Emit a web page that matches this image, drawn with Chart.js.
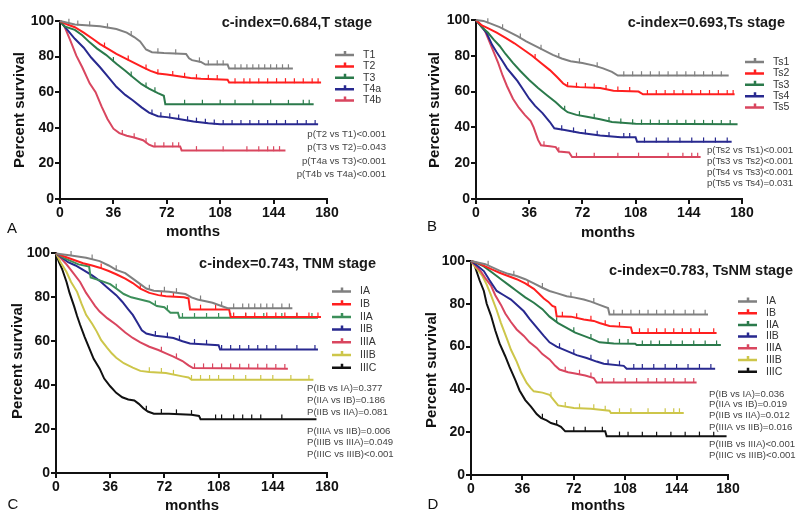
<!DOCTYPE html>
<html>
<head>
<meta charset="utf-8">
<script src="https://cdn.jsdelivr.net/npm/chart.js@4.4.1/dist/chart.umd.min.js"></script>
<style>
  body { margin: 0; background: #fff; width: 800px; height: 517px; position: relative; overflow: hidden; }
  canvas { position: absolute; }
</style>
</head>
<body>
<canvas id="chartA" width="400" height="240" style="left:0;top:0"></canvas>
<canvas id="chartB" width="400" height="240" style="left:400px;top:0"></canvas>
<canvas id="chartC" width="400" height="277" style="left:0;top:240px"></canvas>
<canvas id="chartD" width="400" height="277" style="left:400px;top:240px"></canvas>
<script>
// Kaplan-Meier curves, [month, % survival]
const xTicks = [0, 36, 72, 108, 144, 180];
const yTicks = [0, 20, 40, 60, 80, 100];

// A - T stage
const aT1 = [[0,100],[5,99],[10,98],[27,97],[38,95.5],[45,93.5],[50,91],[54,88.5],[58,84],[62,82.5],[70,82],[85,81.5],[87,79],[89,78],[95,77],[98,75.5],[113,75.5],[114,73.3],[157,73.3]];
const aT2 = [[0,100],[5,98],[10,96.5],[16,93.5],[22,90],[27,87],[33,84],[38,81.5],[44,79],[50,76.5],[56,74],[61,72],[66,70.5],[72,70],[80,69],[88,68],[95,67.5],[113,67],[114,65.5],[176,65.5]];
const aT3 = [[0,100],[3,97],[10,95],[15,92],[20,88],[25,84.5],[31,81],[38,76],[44,72],[49,68.5],[55,64.5],[60,62],[66,59.5],[70,58],[71,53.3],[171,53.3]];
const aT4a = [[0,100],[4,96],[10,90],[16,85],[21,79.5],[27,74],[33,68],[38,63],[44,58.5],[49,55.5],[55,51.5],[60,48.5],[66,46.5],[72,46],[80,45],[90,43.5],[100,42.5],[108,42],[174,42]];
const aT4b = [[0,100],[3,97],[7,89],[11,80.5],[15,74],[20,65],[24,60],[28,52],[32,45],[36,39.5],[40,37],[45,35.5],[50,34.5],[56,33],[60,30.5],[63,29.5],[81,29.5],[82,27.3],[152,27.3]];
const aT1Cens = [6,12,20,32,48,66,78,94,100,106,110,118,122,126,130,134,138,142,146,150,154];
const aT2Cens = [30,46,58,66,76,84,92,100,106,118,124,128,134,140,146,152,158,164,170,174];
const aT3Cens = [36,48,58,64,84,96,108,118,130,142,154,164,168];
const aT4aCens = [62,68,74,80,86,92,98,104,110,116,122,128,134,140,146,152,160,166,172];
const aT4bCens = [42,50,58,64,70,76,80,92,110,126,134,140,144,148];
const aNames = ['T1', 'T2', 'T3', 'T4a', 'T4b'];
const aPvals = ['p(T2 vs T1)<0.001', 'p(T3 vs T2)=0.043', 'p(T4a vs T3)<0.001', 'p(T4b vs T4a)<0.001'];

// B - Ts stage
const bTs1 = [[0,100],[5,99.5],[10,98],[16,96],[22,93.5],[28,91],[34,88],[40,85.5],[46,83],[52,80.5],[58,78.5],[64,77],[72,76],[80,74.5],[86,73],[92,71],[96,69],[171,69]];
const bTs2 = [[0,100],[4,97],[8,95.5],[14,93],[20,90],[26,87],[32,83.5],[38,80],[44,76],[50,72],[55,68],[59,64.5],[62,63],[70,62.5],[84,62],[93,60.5],[110,60],[113,58.5],[175,58.5]];
const bTs3 = [[0,100],[4,96],[8,93],[12,89],[16,85.5],[20,81],[25,76],[30,71.5],[36,66.5],[42,62],[48,58],[54,54],[58,51],[62,48.5],[68,47],[75,46],[84,44.5],[92,43],[108,42],[177,41.7]];
const bTs4 = [[0,100],[3,97],[7,93],[11,86],[14,82],[18,77],[21,73],[25,69],[28,66],[32,61],[36,56],[40,52],[45,48],[50,43],[53,39.5],[60,38.5],[70,37],[84,35.5],[98,34.5],[108,34.5],[109,32],[173,32]];
const bTs5 = [[0,100],[3,97],[6,94],[9,88],[12,82],[15,76],[18,69],[21,63],[25,56],[29,51],[33,47],[37,43.5],[39,40],[42,33],[44,30],[50,29.5],[54,29],[56,26.5],[63,26],[65,23.5],[152,23.5]];
const bTs1Cens = [8,18,30,44,56,70,82,100,106,112,118,124,130,136,142,148,154,160,166];
const bTs2Cens = [40,62,68,74,80,88,96,104,116,122,128,134,140,146,152,158,164,170,174];
const bTs3Cens = [60,70,80,90,98,106,112,118,124,130,136,142,148,154,160,166,172];
const bTs4Cens = [58,66,74,82,90,100,104,114,122,130,138,146,154,162,170];
const bTs5Cens = [46,56,68,80,96,110,130,140,146,150];
const bNames = ['Ts1', 'Ts2', 'Ts3', 'Ts4', 'Ts5'];
const bPvals = ['p(Ts2 vs Ts1)<0.001', 'p(Ts3 vs Ts2)<0.001', 'p(Ts4 vs Ts3)<0.001', 'p(Ts5 vs Ts4)=0.031'];

// C - TNM stage
const cIA = [[0,100],[10,99],[20,98],[29,96.5],[35,94.5],[40,92.5],[46,91],[51,88.5],[56,86],[60,84],[65,83],[75,82.5],[86,81.5],[90,80],[94,79],[104,77.5],[108,76.5],[114,75],[157,75]];
const cIB = [[0,100],[6,98.5],[12,97],[18,95.5],[24,94.5],[29,93.5],[35,92],[40,90.5],[46,88.5],[51,86.5],[56,84],[62,82],[68,81],[73,80.5],[85,80],[88,79.5],[89,74.5],[115,74.5],[116,71],[176,71]];
const cIIA = [[0,100],[5,98],[10,96.5],[15,95],[22,94],[23,89],[30,87.5],[36,86],[40,84],[45,81.5],[50,80],[56,79],[62,78],[67,76],[72,75.5],[76,73],[81,73],[82,70.7],[174,70.7]];
const cIIB = [[0,100],[4,98],[8,96],[13,94.5],[18,92.5],[24,90],[29,87.5],[34,84.5],[40,81],[44,78],[48,74.5],[51,72],[54,68.5],[57,65],[60,63.5],[66,62.5],[72,62],[78,61.5],[84,60],[89,59],[100,58.5],[108,58.2],[109,56.2],[174,56.2]];
const cIIIA = [[0,100],[3,98],[7,95],[11,91.5],[16,87],[20,82],[23,79],[26,76],[29,73.5],[34,70.5],[40,67.5],[46,64],[51,61.5],[56,59.5],[62,57.5],[68,56],[73,54.5],[78,53],[84,51],[88,49],[91,47.8],[154,47.5]];
const cIIIB = [[0,100],[3,96],[7,91.5],[10,87],[14,82.5],[17,77],[20,72],[24,68],[27,64.5],[30,60.5],[34,57],[37,54.5],[40,52.5],[45,50],[51,48],[56,46.5],[62,46],[73,45.5],[84,44],[88,43.5],[90,42.5],[171,42.5]];
const cIIIC = [[0,100],[2,96],[4,93],[7,87],[9,82],[12,76],[14,71.5],[16,67.5],[19,62],[22,57],[25,52],[29,47.5],[32,43],[36,39.5],[40,36.5],[44,34.5],[48,33.5],[52,33],[55,31.5],[58,29.5],[61,28],[65,27],[75,27],[90,26.5],[95,26],[96,24.5],[173,24.5]];
const cIACens = [10,24,40,62,72,80,96,110,118,124,128,132,136,140,144,150,155];
const cIBCens = [30,56,70,78,96,106,118,126,132,140,146,152,160,168,174];
const cIIACens = [40,66,74,84,92,100,108,116,126,138,150,160,170];
const cIIBCens = [66,74,82,92,100,110,116,122,128,134,140,146,160,172];
const cIIIACens = [70,80,92,98,104,110,116,122,128,134,140,146,152];
const cIIIBCens = [62,70,78,90,96,102,108,118,126,136,144,156,168];
const cIIICCens = [60,70,80,90,106,110,118,124,130,136,150];
const cNames = ['IA', 'IB', 'IIA', 'IIB', 'IIIA', 'IIIB', 'IIIC'];
const cPvals = ['P(IB vs IA)=0.377', 'P(IIA vs IB)=0.186', 'P(IIB vs IIA)=0.081', 'P(IIIA vs IIB)=0.006', 'P(IIIB vs IIIA)=0.049', 'P(IIIC vs IIIB)<0.001'];

// D - TsNM stage
const dIA = [[0,100],[10,98.5],[20,95.5],[26,94],[32,93],[38,91.5],[44,89.5],[50,87.5],[55,86],[60,85],[67,83.5],[72,83],[79,82],[84,81],[90,79.5],[96,78],[97,75],[166,75]];
const dIB = [[0,100],[5,99],[10,97.5],[15,96],[20,94.5],[26,93],[32,91.5],[38,89.5],[44,87],[48,84.5],[51,82.5],[54,81],[57,79],[59,78.5],[60,74.2],[70,74],[79,72.7],[86,72],[90,71],[97,69.6],[112,69],[113,66.4],[172,66.4]];
const dIIA = [[0,100],[4,99],[9,97.5],[15,94.5],[21,91.5],[27,88.5],[32,86],[38,83],[44,80.5],[50,77.5],[55,74],[61,71],[67,68.8],[73,66.5],[79,65],[85,63.5],[90,62],[100,61.5],[115,61.3],[116,60.7],[175,60.7]];
const dIIB = [[0,100],[4,98],[9,95.3],[13,91],[18,86],[23,84],[28,82],[33,79],[37,76.5],[41,73],[46,69],[51,65],[55,62],[60,60],[67,58],[74,56],[81,54.7],[88,53],[93,52],[107,51],[109,49.7],[171,49.7]];
const dIIIA = [[0,100],[3,98],[7,95],[10,92],[14,88.5],[17,84],[21,79.5],[24,75.5],[28,71.5],[32,68],[37,65],[41,62],[46,59.4],[50,56.5],[55,54],[59,51],[62,49.3],[68,48],[72,47.5],[80,46.5],[86,45.3],[88,43.2],[158,43.2]];
const dIIIB = [[0,100],[2,98],[4,96.5],[8,93],[11,89],[14,84],[18,77],[21,71],[25,64],[28,58.5],[32,53],[35,48],[39,43],[42,40.5],[44,39.1],[50,38.5],[55,37.5],[58,35],[61,32.5],[72,31.3],[84,31],[97,30],[98,29],[149,29]];
const dIIIC = [[0,100],[2,99],[4,95],[6,91],[9,86],[11,80],[14,74.5],[17,67.5],[20,61.5],[24,55.5],[27,50.5],[31,44.5],[34,39.5],[38,35],[42,32],[46,28.5],[49,26.7],[53,25.5],[56,24.3],[60,23.5],[63,22.5],[66,20.4],[94,20.4],[95,18.1],[179,18.1]];
const dIACens = [12,30,50,70,86,100,106,112,118,124,130,136,142,150,156,164];
const dIBCens = [40,64,74,84,94,104,118,124,130,136,142,148,154,160,170];
const dIIACens = [60,72,84,96,104,110,120,126,132,140,148,156,164,172];
const dIIBCens = [62,72,84,96,104,114,120,128,136,144,152,160,168];
const dIIIACens = [66,76,84,92,100,108,116,124,130,136,142,150,156];
const dIIIBCens = [56,66,76,86,94,104,112,124,136,142,146];
const dIIICCens = [50,60,72,80,92,104,110,120,130,140,150,160,170];
const dNames = cNames;
const dPvals = ['P(IB vs IA)=0.036', 'P(IIA vs IB)=0.019', 'P(IIB vs IIA)=0.012', 'P(IIIA vs IIB)=0.016', 'P(IIIB vs IIIA)<0.001', 'P(IIIC vs IIIB)<0.001'];

const GRAY = '#808080', RED = '#ff1f1f', GREEN = '#2b7a4b', BLUE = '#28298f', PINK = '#d9465f', YELLOW = '#cdc64a', BLACK = '#111111';
const FONT = 'Arial, "Liberation Sans", Helvetica, sans-serif';

// survival value on the drawn curve at month t (used to sit censor ticks on the line)
function survAt(pts, t) {
  for (let i = 1; i < pts.length; i++) {
    if (t <= pts[i][0]) {
      const [x0, y0] = pts[i - 1], [x1, y1] = pts[i];
      return x1 === x0 ? y1 : y0 + (y1 - y0) * (t - x0) / (x1 - x0);
    }
  }
  return pts[pts.length - 1][1];
}

function textPlugin(p) {
  return {
    id: 'panelText',
    afterDraw(chart) {
      const ctx = chart.ctx;
      ctx.save();
      ctx.textBaseline = 'middle';
      // title
      ctx.fillStyle = '#1a1a1a';
      ctx.font = 'bold 14.5px ' + FONT;
      ctx.textAlign = 'right';
      ctx.fillText(p.title, p.titleX, p.titleY);
      // legend
      ctx.font = '10.5px ' + FONT;
      ctx.textAlign = 'left';
      p.names.forEach((n, i) => {
        const y = p.legY + i * p.legStep;
        ctx.strokeStyle = p.colors[i];
        ctx.lineWidth = 2.5;
        ctx.beginPath();
        ctx.moveTo(p.legX, y); ctx.lineTo(p.legX + 19, y);
        ctx.moveTo(p.legX + 10, y); ctx.lineTo(p.legX + 10, y - 4);
        ctx.stroke();
        ctx.fillStyle = '#333';
        ctx.fillText(n, p.legX + 28, y);
      });
      // p values
      ctx.fillStyle = '#444';
      ctx.font = '9.6px ' + FONT;
      ctx.textAlign = p.pAlign;
      p.pvals.forEach((s, i) => ctx.fillText(s, p.pX, p.pYs[i]));
      // axis titles
      ctx.fillStyle = '#111';
      ctx.font = 'bold 15px ' + FONT;
      ctx.textAlign = 'center';
      ctx.fillText('months', p.monthsX, p.monthsY);
      ctx.save();
      ctx.translate(p.yTitleX, p.yTitleY);
      ctx.rotate(-Math.PI / 2);
      ctx.fillText('Percent survival', 0, 0);
      ctx.restore();
      // panel letter
      ctx.font = '15px ' + FONT;
      ctx.fillText(p.letter, p.letterX, p.letterY);
      ctx.restore();
    }
  };
}

function makePanel(id, p) {
  const datasets = [];
  p.curves.forEach((pts, i) => {
    datasets.push({
      label: p.names[i],
      data: pts.map(([x, y]) => ({ x, y })),
      borderColor: p.colors[i],
      borderWidth: 2,
      pointRadius: 0,
      tension: 0,
      fill: false,
      clip: false
    });
  });
  p.cens.forEach((ts, i) => {
    const pts = p.curves[i];
    datasets.push({
      label: p.names[i] + ' censored',
      data: ts.map(t => ({ x: t, y: survAt(pts, t) + 1 })),
      showLine: false,
      pointStyle: 'line',
      rotation: 90,
      pointRadius: 2.5,
      borderColor: p.colors[i],
      borderWidth: 1.2,
      clip: false
    });
  });
  const axisFont = { family: FONT, size: 14, weight: 'bold' };
  new Chart(document.getElementById(id), {
    type: 'line',
    data: { datasets },
    options: {
      responsive: false,
      animation: false,
      events: [],
      layout: { padding: { left: 0, top: p.area.top, right: p.w - p.area.right, bottom: 0 } },
      plugins: { legend: { display: false }, tooltip: { enabled: false } },
      scales: {
        x: {
          type: 'linear', min: 0, max: 180,
          afterBuildTicks: s => { s.ticks = xTicks.map(v => ({ value: v })); },
          ticks: { font: axisFont, color: '#111', padding: 1, maxRotation: 0 },
          grid: { drawOnChartArea: false, tickLength: 5, color: '#111', lineWidth: 2 },
          border: { color: '#111', width: 2 },
          afterFit: s => { s.height = p.h - p.area.bottom; }
        },
        y: {
          min: 0, max: 100,
          afterBuildTicks: s => { s.ticks = yTicks.map(v => ({ value: v })); },
          ticks: { font: axisFont, color: '#111', padding: 1 },
          grid: { drawOnChartArea: false, tickLength: 5, color: '#111', lineWidth: 2 },
          border: { color: '#111', width: 2 },
          afterFit: s => { s.width = p.area.left; }
        }
      }
    },
    plugins: [textPlugin(p)]
  });
}

makePanel('chartA', {
  w: 400, h: 240, area: { left: 60, right: 327, top: 21, bottom: 199 },
  curves: [aT1, aT2, aT3, aT4a, aT4b], cens: [aT1Cens, aT2Cens, aT3Cens, aT4aCens, aT4bCens],
  names: aNames, colors: [GRAY, RED, GREEN, BLUE, PINK],
  title: 'c-index=0.684,T stage', titleX: 372, titleY: 23,
  legX: 335, legY: 55, legStep: 11.4,
  pvals: aPvals, pAlign: 'right', pX: 386, pYs: [134, 147.5, 161, 174.5],
  monthsX: 193, monthsY: 232, yTitleX: 20, yTitleY: 110, letter: 'A', letterX: 12, letterY: 229
});

makePanel('chartB', {
  w: 400, h: 240, area: { left: 76, right: 342, top: 20, bottom: 199 },
  curves: [bTs1, bTs2, bTs3, bTs4, bTs5], cens: [bTs1Cens, bTs2Cens, bTs3Cens, bTs4Cens, bTs5Cens],
  names: bNames, colors: [GRAY, RED, GREEN, BLUE, PINK],
  title: 'c-index=0.693,Ts stage', titleX: 385, titleY: 23,
  legX: 345, legY: 62, legStep: 11.4,
  pvals: bPvals, pAlign: 'left', pX: 307, pYs: [150, 161, 172, 183],
  monthsX: 208, monthsY: 233, yTitleX: 35, yTitleY: 110, letter: 'B', letterX: 32, letterY: 227
});

makePanel('chartC', {
  w: 400, h: 277, area: { left: 56, right: 327, top: 13.4, bottom: 233 },
  curves: [cIA, cIB, cIIA, cIIB, cIIIA, cIIIB, cIIIC],
  cens: [cIACens, cIBCens, cIIACens, cIIBCens, cIIIACens, cIIIBCens, cIIICCens],
  names: cNames, colors: [GRAY, RED, '#3c8f5a', BLUE, PINK, YELLOW, BLACK],
  title: 'c-index=0.743, TNM stage', titleX: 376, titleY: 24,
  legX: 332, legY: 51.5, legStep: 12.7,
  pvals: cPvals, pAlign: 'left', pX: 307, pYs: [148, 160.5, 172, 191.5, 202.5, 214],
  monthsX: 192, monthsY: 266, yTitleX: 18, yTitleY: 121, letter: 'C', letterX: 13, letterY: 265
});

makePanel('chartD', {
  w: 400, h: 277, area: { left: 71, right: 328, top: 21, bottom: 235 },
  curves: [dIA, dIB, dIIA, dIIB, dIIIA, dIIIB, dIIIC],
  cens: [dIACens, dIBCens, dIIACens, dIIBCens, dIIIACens, dIIIBCens, dIIICCens],
  names: dNames, colors: [GRAY, RED, GREEN, BLUE, PINK, YELLOW, BLACK],
  title: 'c-index=0.783, TsNM stage', titleX: 393, titleY: 30.5,
  legX: 338, legY: 61.5, legStep: 11.7,
  pvals: dPvals, pAlign: 'left', pX: 309, pYs: [154, 164.7, 175.7, 187, 204.7, 215.7],
  monthsX: 198, monthsY: 266, yTitleX: 32, yTitleY: 130, letter: 'D', letterX: 33, letterY: 265
});
</script>
</body>
</html>
